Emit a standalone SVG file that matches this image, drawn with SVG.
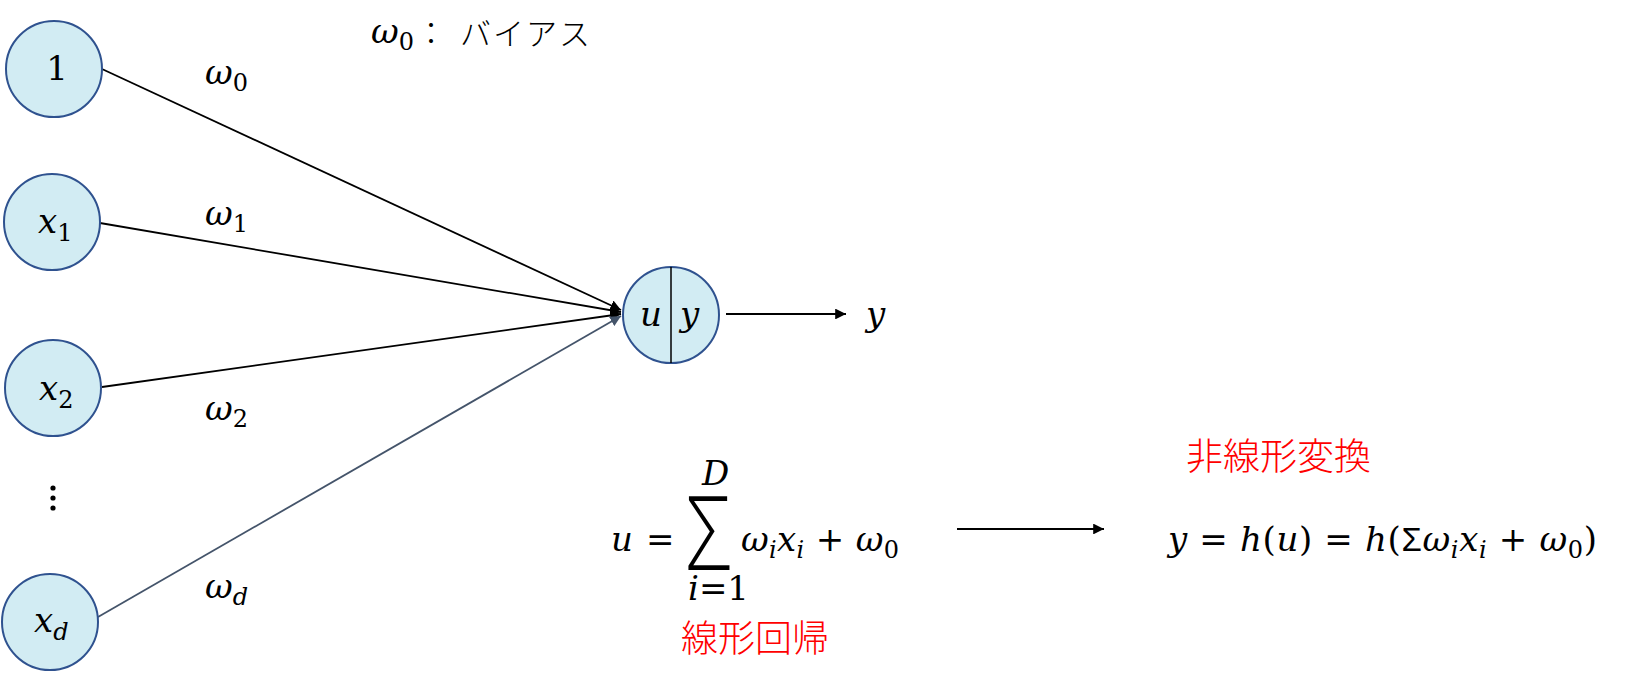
<svg xmlns="http://www.w3.org/2000/svg" width="1628" height="686" viewBox="0 0 1628 686">
<defs>
<style>
.node{fill:#D2ECF3;stroke:#2F528F;stroke-width:2}
.m{font-family:"DejaVu Serif","Liberation Serif",serif;font-style:italic;font-size:34px;fill:#000}
.n{font-family:"DejaVu Serif","Liberation Serif",serif;font-style:normal;font-size:34px;fill:#000}
.up{font-style:normal}
.sub{font-size:24px;font-style:normal}
.subi{font-size:24px;font-style:italic}
.sig{font-family:"Liberation Sans",sans-serif;font-style:normal}
.bigsig{font-family:"Open Sans","Noto Sans","Liberation Sans",sans-serif;font-weight:300;font-style:normal;fill:#000}
.jp{font-family:"Noto Sans CJK JP",sans-serif;font-weight:300;font-size:31px;fill:#000}
.red{font-family:"Noto Sans CJK JP",sans-serif;font-weight:300;font-size:37px;fill:#FF0000}
.edge{stroke:#000;stroke-width:1.8;fill:none}
</style>
<marker id="ah" viewBox="0 0 10 10" refX="10" refY="5" markerWidth="6" markerHeight="6" orient="auto"><path d="M0,0 L10,5 L0,10 Z" fill="#000"/></marker>
<marker id="ah2" viewBox="0 0 10 10" refX="10" refY="5" markerWidth="6" markerHeight="6" orient="auto"><path d="M0,0 L10,5 L0,10 Z" fill="#44546A"/></marker>
</defs>
<rect width="1628" height="686" fill="#fff"/>
<g id="connectors">
<line class="edge" x1="102" y1="69" x2="621" y2="310" marker-end="url(#ah)"/>
<line class="edge" x1="100" y1="223" x2="621" y2="312" marker-end="url(#ah)"/>
<line class="edge" x1="102" y1="387" x2="621" y2="314" marker-end="url(#ah)"/>
<line class="edge" x1="98" y1="617" x2="621" y2="316" style="stroke:#44546A" marker-end="url(#ah2)"/>
<line class="edge" x1="726" y1="314" x2="846" y2="314" marker-end="url(#ah)"/>
<line class="edge" x1="957" y1="529" x2="1104" y2="529" marker-end="url(#ah)"/>
</g>
<g id="node-1"><circle class="node" cx="54" cy="69" r="48"/><text class="n" x="57" y="80" text-anchor="middle" font-size="36">1</text></g>
<g id="node-x1"><circle class="node" cx="52" cy="222" r="48"/><text class="m" x="38" y="233">x<tspan class="sub" dy="8">1</tspan></text></g>
<g id="node-x2"><circle class="node" cx="53" cy="388" r="48"/><text class="m" x="39" y="400">x<tspan class="sub" dy="8">2</tspan></text></g>
<g id="node-dots"><circle cx="53" cy="488" r="2.6"/><circle cx="53" cy="498" r="2.6"/><circle cx="53" cy="508" r="2.6"/></g>
<g id="node-xd"><circle class="node" cx="50" cy="622" r="48"/><text class="m" x="34" y="632">x<tspan class="subi" dy="8">d</tspan></text></g>
<g id="node-out"><circle class="node" cx="671" cy="315" r="48"/><line x1="671" y1="267" x2="671" y2="363" stroke="#000" stroke-width="1.5"/><text class="m" x="640" y="326">u</text><text class="m" x="680" y="326">y</text></g>
<g id="labels">
<text class="m" x="205" y="84">ω<tspan class="sub" dy="7">0</tspan></text>
<text class="m" x="205" y="225">ω<tspan class="sub" dy="7">1</tspan></text>
<text class="m" x="205" y="420">ω<tspan class="sub" dy="7">2</tspan></text>
<text class="m" x="205" y="598">ω<tspan class="subi" dy="7">d</tspan></text>
<text class="m" x="866" y="326">y</text>
<text class="m" x="371" y="43">ω<tspan class="sub" dy="7">0</tspan></text>
<text class="jp" x="431" y="44" text-anchor="middle">：</text>
<text class="jp" x="460" y="45" letter-spacing="2">バイアス</text>
<text class="m" x="611" y="551">u</text>
<text class="n" x="646" y="551">=</text>
<text class="bigsig" transform="translate(686,570) scale(0.78,1)" font-size="104">Σ</text>
<text class="m" x="702" y="485" font-size="21">D</text>
<text class="m" x="688" y="600" font-size="24">i<tspan class="up">=1</tspan></text>
<text class="m" x="741" y="551" textLength="158" lengthAdjust="spacing">ω<tspan class="subi" dy="7">i</tspan><tspan dy="-7">x</tspan><tspan class="subi" dy="7">i</tspan><tspan class="up" dy="-7"> + </tspan><tspan>ω</tspan><tspan class="sub" dy="7">0</tspan></text>
<text class="m" x="1168" y="551" textLength="429" lengthAdjust="spacing">y<tspan class="up"> = </tspan>h<tspan class="up">(</tspan>u<tspan class="up">) = </tspan>h<tspan class="up">(</tspan><tspan class="sig" font-size="33">Σ</tspan>ω<tspan class="subi" dy="7">i</tspan><tspan dy="-7">x</tspan><tspan class="subi" dy="7">i</tspan><tspan dy="-7" class="up"> + </tspan>ω<tspan class="sub" dy="7">0</tspan><tspan dy="-7" class="up">)</tspan></text>
<text class="red" x="1186" y="470">非線形変換</text>
<text class="red" x="681" y="652">線形回帰</text>
</g>
</svg>
